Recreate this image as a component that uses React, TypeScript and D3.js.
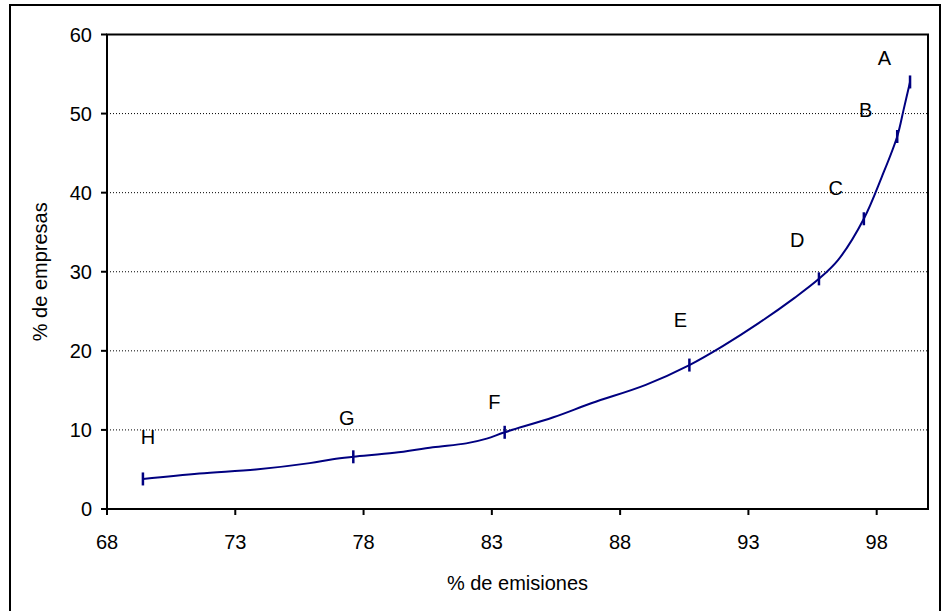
import React from "react";
import * as d3 from "d3";

const curveX = [69.4, 71.6, 73.8, 75.9, 76.8, 77.6, 79.2, 80.7, 82.0, 82.8, 83.5, 85.4, 86.9, 89.0, 90.7, 92.0, 93.4, 94.8, 95.75, 96.5, 97.5, 98.2, 98.8, 99.05, 99.3];
const curveY = [3.8, 4.5, 5.0, 5.8, 6.3, 6.6, 7.1, 7.8, 8.3, 8.9, 9.7, 11.6, 13.4, 15.7, 18.2, 20.6, 23.5, 26.7, 29.1, 31.5, 36.7, 42.0, 47.1, 50.5, 54.0];

const markNames = ["H", "G", "F", "E", "D", "C", "B", "A"];
const markX = [69.4, 77.6, 83.5, 90.7, 95.75, 97.5, 98.8, 99.3];
const markY = [3.8, 6.6, 9.7, 18.2, 29.1, 36.7, 47.1, 54.0];
const labelX = [69.6, 77.35, 83.1, 90.35, 94.9, 96.4, 97.57, 98.3];
const labelY = [9.1, 11.5, 13.5, 23.9, 34.0, 40.6, 50.4, 57.0];

const xTicks = [68, 73, 78, 83, 88, 93, 98];
const yTicks = [0, 10, 20, 30, 40, 50, 60];
const gridY = [10, 20, 30, 40, 50];

const xTitle = "% de emisiones";
const yTitle = "% de empresas";

export default function App() {
  const W = 942, H = 611;
  const left = 107, right = 928, top = 34.5, bottom = 509;
  const x = d3.scaleLinear().domain([68, 100]).range([left, right]);
  const y = d3.scaleLinear().domain([0, 60]).range([bottom, top]);
  const pts: [number, number][] = curveX.map((v, i) => [x(v), y(curveY[i])]);
  const line = d3.line().curve(d3.curveCatmullRom.alpha(0.5))(pts) || "";
  const font = "'Liberation Sans', Arial, sans-serif";
  const fs = 20;
  const navy = "#000080";
  return (
    <svg width={W} height={H} style={{ position: "absolute", left: 0, top: 0, background: "#fff" }} fontFamily={font}>
      <rect x={0} y={0} width={W} height={H} fill="#fff" />
      <rect x={10} y={5} width={930} height={640} fill="none" stroke="#000" strokeWidth={2} />
      {gridY.map((g) => (
        <line key={g} x1={left} x2={right} y1={y(g)} y2={y(g)} stroke="#000" strokeWidth={1} strokeDasharray="1,2" />
      ))}
      <rect x={left} y={top} width={right - left} height={bottom - top} fill="none" stroke="#000" strokeWidth={2} />
      {yTicks.map((t) => (
        <g key={t}>
          <line x1={left - 6} x2={left} y1={y(t)} y2={y(t)} stroke="#000" strokeWidth={2} />
          <text x={left - 15} y={y(t)} dy="0.35em" textAnchor="end" fontSize={fs} fill="#000">{t}</text>
        </g>
      ))}
      {xTicks.map((t) => (
        <g key={t}>
          <line x1={x(t)} x2={x(t)} y1={bottom} y2={bottom + 6} stroke="#000" strokeWidth={2} />
          <text x={x(t)} y={542} dy="0.35em" textAnchor="middle" fontSize={fs} fill="#000">{t}</text>
        </g>
      ))}
      <path d={line} fill="none" stroke={navy} strokeWidth={2} />
      {markX.map((mx, i) => (
        <line key={i} x1={x(mx)} x2={x(mx)} y1={y(markY[i]) - 6.5} y2={y(markY[i]) + 6.5} stroke={navy} strokeWidth={2.5} />
      ))}
      {markNames.map((n, i) => (
        <text key={n} x={x(labelX[i])} y={y(labelY[i])} dy="0.35em" textAnchor="middle" fontSize={fs} fill="#000">{n}</text>
      ))}
      <text x={(left + right) / 2} y={583} dy="0.35em" textAnchor="middle" fontSize={fs} fill="#000">{xTitle}</text>
      <text transform={`translate(40,${(top + bottom) / 2}) rotate(-90)`} dy="0.35em" textAnchor="middle" fontSize={fs} fill="#000">{yTitle}</text>
    </svg>
  );
}
